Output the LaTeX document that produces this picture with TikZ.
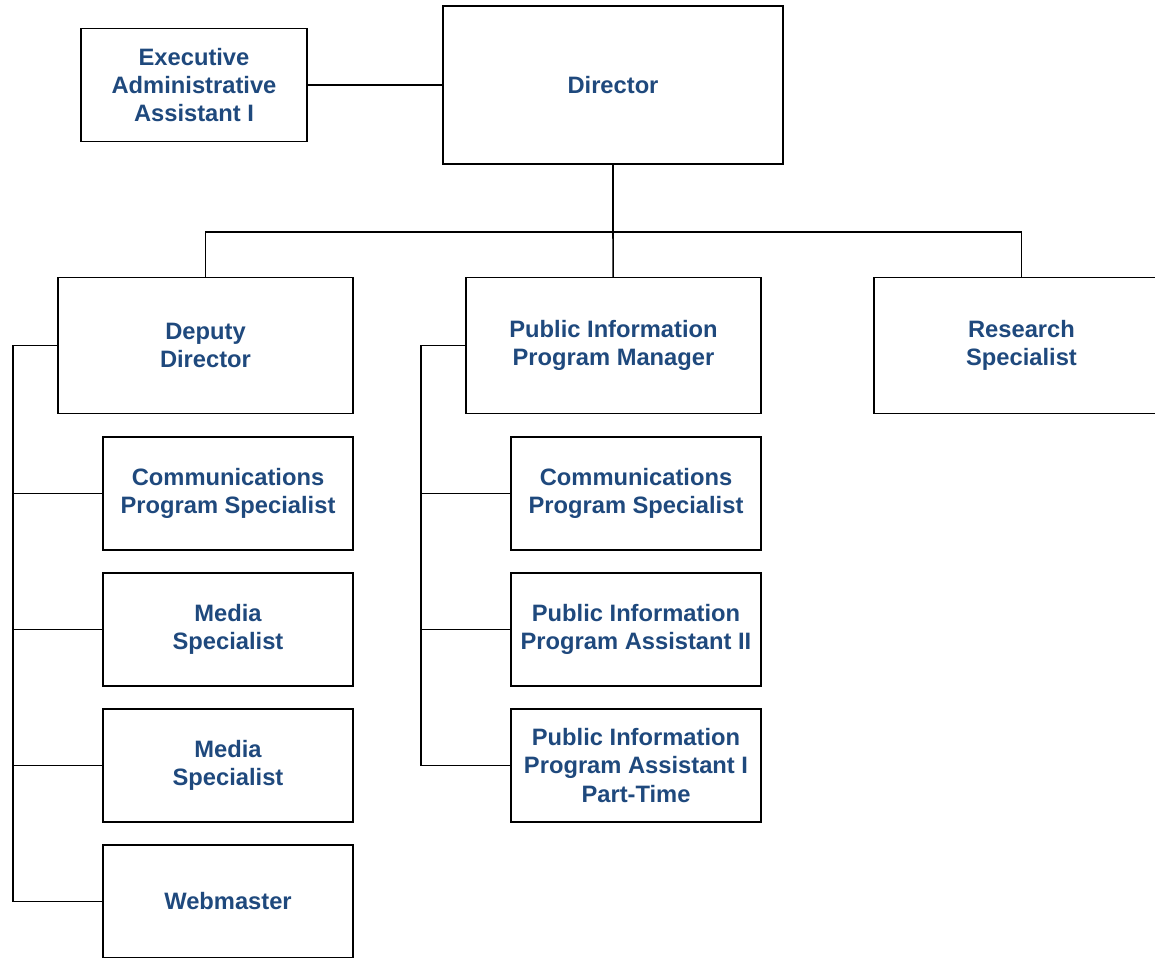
\documentclass[tikz,border=0pt]{standalone}
\usepackage{fontspec}
\setmainfont{Liberation Sans}
\usetikzlibrary{positioning}
\definecolor{titleblue}{RGB}{31,73,125}

\begin{document}
\begin{tikzpicture}[
    x=0.02cm, y=-0.02cm,
    node distance=0.46cm,
    post/.style={rectangle, draw, line width=1pt, outer sep=0pt, inner sep=0pt, align=center, font=\fontsize{13.5}{16.2}\selectfont\bfseries, text=titleblue},
    headbox/.style={post, minimum width=6.8cm, minimum height=3.16cm},
    assistbox/.style={post, minimum width=4.52cm, minimum height=2.26cm},
    leadbox/.style={post, minimum width=5.9cm, minimum height=2.72cm},
    staffbox/.style={post, minimum width=5cm, minimum height=2.26cm},
    link/.style={line width=0.9pt}
]
\useasboundingbox (0,0) rectangle (1155,957);

% Top level
\node[headbox] (director) at (613,85) {Director};
\node[assistbox] (execassist) at (194,85) {Executive\\Administrative\\Assistant I};

% Second level
\node[leadbox] (deputy) at (205.5,345.5) {Deputy\\Director};
\node[leadbox] (pipm) at (613.5,345.5) {Public Information\\Program Manager};
\node[leadbox] (research) at (1021.5,345.5) {Research\\Specialist};

% Deputy Director staff
\node[staffbox] (dcomm) at (228,493.5) {Communications\\Program Specialist};
\node[staffbox] (dmedia1) [below=of dcomm] {Media\\Specialist};
\node[staffbox] (dmedia2) [below=of dmedia1] {Media\\Specialist};
\node[staffbox] (webmaster) [below=of dmedia2] {Webmaster};

% Program Manager staff
\node[staffbox] (pcomm) at (636,493.5) {Communications\\Program Specialist};
\node[staffbox] (passist2) [below=of pcomm] {Public Information\\Program Assistant II};
\node[staffbox] (passist1) [below=of passist2] {Public Information\\Program Assistant I\\Part-Time};

% Connectors
\coordinate (bar) at (613,232);
\coordinate (dspine) at (13,345.5);
\coordinate (pspine) at (421,345.5);

\draw[link] (execassist) -- (director);
\draw[link] (director) -- (bar);
\draw[link] (deputy) |- (bar) -| (research);
\draw[link] (pipm) -- (bar);

\draw[link] (deputy.west) -- (dspine) |- (webmaster.west);
\foreach \c in {dcomm, dmedia1, dmedia2} {
    \draw[link] (\c.west) -- (\c.west -| dspine);
}

\draw[link] (pipm.west) -- (pspine) |- (passist1.west);
\foreach \c in {pcomm, passist2} {
    \draw[link] (\c.west) -- (\c.west -| pspine);
}

\end{tikzpicture}
\end{document}
